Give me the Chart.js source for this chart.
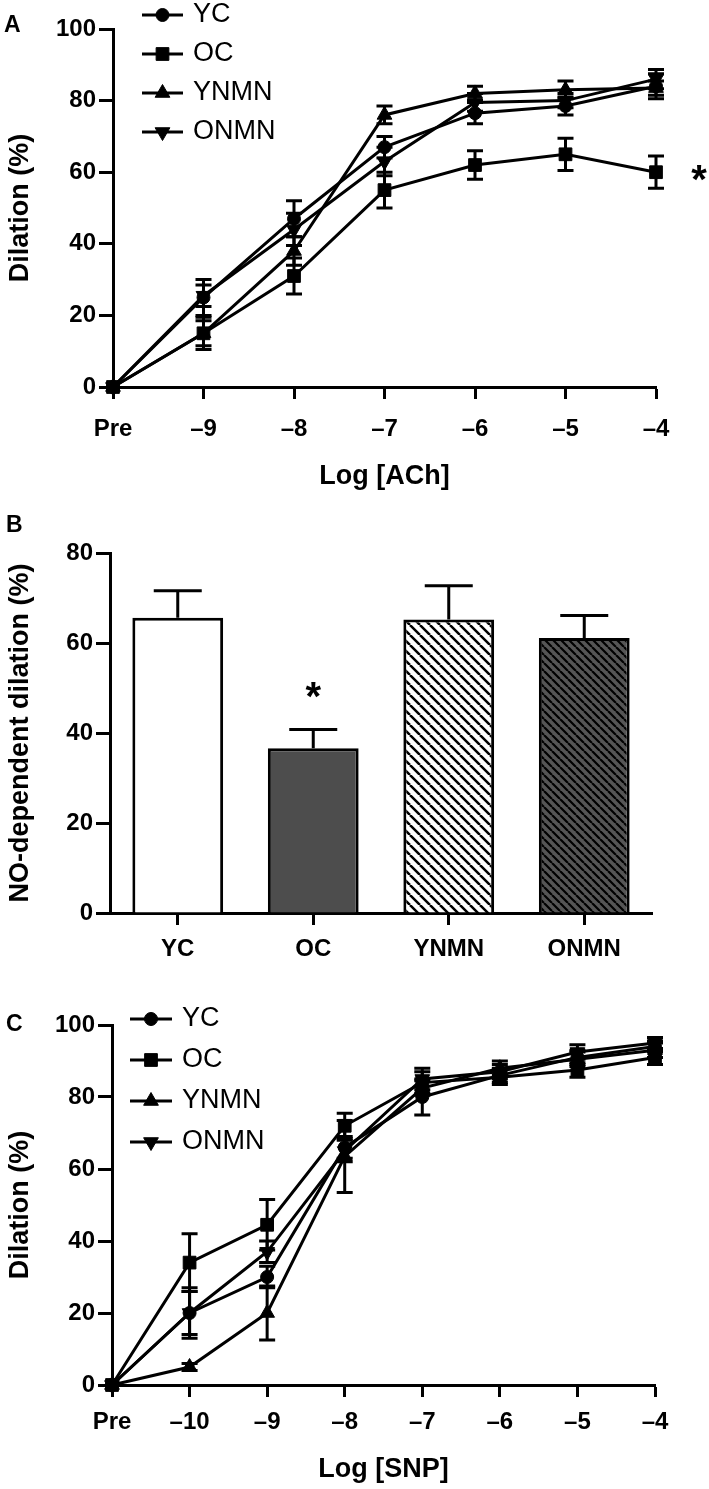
<!DOCTYPE html>
<html><head><meta charset="utf-8">
<script src="https://cdn.jsdelivr.net/npm/chart.js@4.4.1/dist/chart.umd.min.js"></script>
<style>
html,body{margin:0;padding:0;background:#fff;}
#wrap{position:relative;width:709px;height:1489px;background:#fff;}
canvas{position:absolute;left:0;}
</style></head><body>
<div id="wrap">
<canvas id="cA" width="709" height="495" style="top:0px"></canvas>
<canvas id="cB" width="709" height="505" style="top:495px"></canvas>
<canvas id="cC" width="709" height="489" style="top:1000px"></canvas>
</div>
<script>
// ---------- DATA ----------
const seriesNames = ['YC', 'OC', 'YNMN', 'ONMN'];

// Panel A: Log [ACh]
const achLabels = ['Pre', '–9', '–8', '–7', '–6', '–5', '–4'];
const achYC   = [0, 25, 47, 67, 76.5, 78.5, 84];
const achOC   = [0, 15, 31, 55, 62, 65, 60];
const achYNMN = [0, 15, 38, 76, 82, 83, 83.5];
const achONMN = [0, 25.5, 44, 63, 79.5, 80, 86];
const achErrYC   = [0, 5, 5, 3, 3, 2.5, 3.5];
const achErrOC   = [0, 4.5, 5, 5, 4, 4.5, 4.5];
const achErrYNMN = [0, 3.5, 4, 2.5, 2, 2.5, 2];
const achErrONMN = [0, 3, 4.5, 4, 2.5, 2, 2.7];

// Panel B: NO-dependent dilation
const noGroups = ['YC', 'OC', 'YNMN', 'ONMN'];
const noValues = [65.6, 36.6, 65.2, 61.1];
const noErrors = [6, 4.2, 7.5, 5];

// Panel C: Log [SNP]
const snpLabels = ['Pre', '–10', '–9', '–8', '–7', '–6', '–5', '–4'];
const snpYC   = [0, 20, 30, 66, 80, 86, 91, 94];
const snpOC   = [0, 34, 44.5, 72, 84, 85.5, 87.5, 91];
const snpYNMN = [0, 5, 20, 63.5, 82.5, 88, 90.5, 93];
const snpONMN = [0, 20, 37, 65, 85, 87, 92.5, 95];
const snpErrYC   = [0, 7, 3, 3, 5, 2, 2, 1.5];
const snpErrOC   = [0, 8, 7, 3.5, 3, 2, 2, 2];
const snpErrYNMN = [0, 1, 7.5, 10, 2, 2, 2, 2];
const snpErrONMN = [0, 6, 3, 3, 3, 2, 2, 1.5];

// ---------- STYLE ----------
const FONT = "'Liberation Sans', Arial, sans-serif";
Chart.defaults.font.family = FONT;
Chart.defaults.color = '#000';
Chart.defaults.animation = false;

const markerStyles = [
  {pointStyle: 'circle', pointRadius: 6.5, pointRotation: 0},
  {pointStyle: 'rect', pointRadius: 9, pointRotation: 0},
  {pointStyle: 'triangle', pointRadius: 8.5, pointRotation: 0},
  {pointStyle: 'triangle', pointRadius: 8.5, pointRotation: 180}
];

function lineDatasets(arrays) {
  return arrays.map((d, i) => Object.assign({
    label: seriesNames[i], data: d,
    borderColor: '#000', backgroundColor: '#000', borderWidth: 3,
    pointBackgroundColor: '#000', pointBorderColor: '#000', pointBorderWidth: 1,
    tension: 0, clip: false
  }, markerStyles[i]));
}

const errorBarPlugin = {
  id: 'errorBars',
  beforeDatasetsDraw(chart, args, o) {
    if (!o || !o.errors) return;
    const ctx = chart.ctx, ys = chart.scales.y;
    ctx.save();
    ctx.strokeStyle = '#000'; ctx.lineWidth = 3; ctx.lineCap = 'butt';
    chart.data.datasets.forEach((ds, di) => {
      const errs = o.errors[di]; if (!errs) return;
      const meta = chart.getDatasetMeta(di);
      meta.data.forEach((el, i) => {
        const e = errs[i]; if (!e) return;
        const v = ds.data[i], x = el.x;
        const yt = ys.getPixelForValue(v + e);
        const yb = o.upOnly ? ys.getPixelForValue(v) : ys.getPixelForValue(v - e);
        ctx.beginPath();
        ctx.moveTo(x, yt); ctx.lineTo(x, yb);
        ctx.moveTo(x - o.cap, yt); ctx.lineTo(x + o.cap, yt);
        if (!o.upOnly) { ctx.moveTo(x - o.cap, yb); ctx.lineTo(x + o.cap, yb); }
        ctx.stroke();
      });
    });
    ctx.restore();
  }
};

const lineLegendPlugin = {
  id: 'lineLegend',
  afterDraw(chart, args, o) {
    if (!o || !o.show) return;
    const ctx = chart.ctx;
    chart.data.datasets.forEach((ds, i) => {
      const y = o.top + i * o.step;
      ctx.save();
      ctx.strokeStyle = '#000'; ctx.fillStyle = '#000'; ctx.lineWidth = 3;
      ctx.beginPath(); ctx.moveTo(o.left, y); ctx.lineTo(o.left + o.lineLen, y); ctx.stroke();
      ctx.lineWidth = 1;
      Chart.helpers.drawPoint(ctx, {pointStyle: ds.pointStyle, rotation: ds.pointRotation || 0,
        radius: ds.pointRadius, borderWidth: 1}, o.left + o.lineLen / 2, y);
      ctx.font = o.font; ctx.textBaseline = 'middle'; ctx.textAlign = 'left';
      ctx.fillText(ds.label, o.left + o.lineLen + o.gap, y);
      ctx.restore();
    });
  }
};

const notesPlugin = {
  id: 'notes',
  afterDraw(chart, args, o) {
    if (!o) return;
    const ctx = chart.ctx;
    ctx.save();
    ctx.fillStyle = '#000'; ctx.textBaseline = 'middle'; ctx.textAlign = 'center';
    if (o.letter) {
      ctx.font = 'bold 23px ' + FONT; ctx.textAlign = 'left';
      ctx.fillText(o.letter.text, o.letter.x, o.letter.y);
    }
    (o.stars || []).forEach(s => {
      const ds = chart.data.datasets[s.dataset];
      const el = chart.getDatasetMeta(s.dataset).data[s.index];
      const errs = s.errors ? s.errors[s.index] : 0;
      const y = chart.scales.y.getPixelForValue(ds.data[s.index] + errs);
      ctx.font = 'bold 40px ' + FONT; ctx.textAlign = 'center';
      ctx.fillText('*', el.x + s.dx, y + s.dy);
    });
    ctx.restore();
  }
};

Chart.register(errorBarPlugin, lineLegendPlugin, notesPlugin);

function yAxis(max, title, width, titlePad) {
  return {
    min: 0, max: max,
    ticks: {stepSize: 20, color: '#000', font: {size: 24, weight: 'bold'}, padding: 3},
    grid: {drawOnChartArea: false, tickLength: 14, tickWidth: 3, tickColor: '#000'},
    border: {width: 3, color: '#000'},
    title: {display: true, text: title, color: '#000', font: {size: 27, weight: 'bold'}, padding: {top: titlePad, bottom: 0}},
    afterFit(s) { s.width = width; }
  };
}
function xAxis(offset, height, tickPad, title, titlePad) {
  return {
    type: 'category', offset: offset,
    ticks: {color: '#000', font: {size: 24, weight: 'bold'}, padding: tickPad, maxRotation: 0, autoSkip: false},
    grid: {drawOnChartArea: false, offset: false, tickLength: 12, tickWidth: 3, tickColor: '#000'},
    border: {width: 3, color: '#000'},
    title: title ? {display: true, text: title, color: '#000', font: {size: 27, weight: 'bold'}, padding: {top: 0, bottom: titlePad}} : {display: false},
    afterFit(s) { s.height = height; }
  };
}

function hatch(bg, s, lw) {
  const c = document.createElement('canvas'); c.width = s; c.height = s;
  const g = c.getContext('2d');
  g.fillStyle = bg; g.fillRect(0, 0, s, s);
  g.strokeStyle = '#000'; g.lineWidth = lw;
  g.beginPath();
  [-s, 0, s].forEach(off => { g.moveTo(off, 0); g.lineTo(off + s, s); });
  g.stroke();
  return g.createPattern(c, 'repeat');
}

// ---------- PANEL A ----------
new Chart(document.getElementById('cA'), {
  type: 'line',
  data: {labels: achLabels, datasets: lineDatasets([achYC, achOC, achYNMN, achONMN])},
  options: {
    responsive: false, devicePixelRatio: 1,
    layout: {padding: {top: 29, right: 53, left: 0, bottom: 0}},
    scales: {x: xAxis(false, 108, 16, 'Log [ACh]', 2), y: yAxis(100, 'Dilation (%)', 113, 4)},
    plugins: {
      legend: {display: false}, tooltip: {enabled: false},
      errorBars: {errors: [achErrYC, achErrOC, achErrYNMN, achErrONMN], cap: 8, upOnly: false},
      lineLegend: {show: true, left: 142, top: 15, step: 39, lineLen: 41, gap: 10, font: '27px ' + FONT},
      notes: {letter: {text: 'A', x: 4, y: 26}, stars: [{dataset: 1, index: 6, dx: 43, dy: 10}]}
    }
  }
});

// ---------- PANEL B ----------
const barFills = ['#ffffff', '#4d4d4d', hatch('#ffffff', 10, 2.5), hatch('#555555', 8, 2.2)];
new Chart(document.getElementById('cB'), {
  type: 'bar',
  data: {labels: noGroups, datasets: [{label: 'NO-dependent dilation', data: noValues,
    backgroundColor: barFills, borderColor: '#000', borderWidth: 3,
    categoryPercentage: 1, barPercentage: 0.67}]},
  options: {
    responsive: false, devicePixelRatio: 1,
    layout: {padding: {top: 58, right: 57, left: 0, bottom: 0}},
    scales: {x: xAxis(true, 87, 10, null, 0), y: yAxis(80, 'NO-dependent dilation (%)', 110, 4)},
    plugins: {
      legend: {display: false}, tooltip: {enabled: false},
      errorBars: {errors: [noErrors], cap: 24, upOnly: true},
      notes: {letter: {text: 'B', x: 6, y: 31}, stars: [{dataset: 0, index: 1, dx: 0, dy: -30, errors: noErrors}]}
    }
  }
});

// ---------- PANEL C ----------
new Chart(document.getElementById('cC'), {
  type: 'line',
  data: {labels: snpLabels, datasets: lineDatasets([snpYC, snpOC, snpYNMN, snpONMN])},
  options: {
    responsive: false, devicePixelRatio: 1,
    layout: {padding: {top: 25, right: 54, left: 0, bottom: 0}},
    scales: {x: xAxis(false, 104, 11, 'Log [SNP]', 3), y: yAxis(100, 'Dilation (%)', 112, 4)},
    plugins: {
      legend: {display: false}, tooltip: {enabled: false},
      errorBars: {errors: [snpErrYC, snpErrOC, snpErrYNMN, snpErrONMN], cap: 8, upOnly: false},
      lineLegend: {show: true, left: 130, top: 19, step: 41, lineLen: 42, gap: 10, font: '27px ' + FONT},
      notes: {letter: {text: 'C', x: 6, y: 25}}
    }
  }
});
</script>
</body></html>
